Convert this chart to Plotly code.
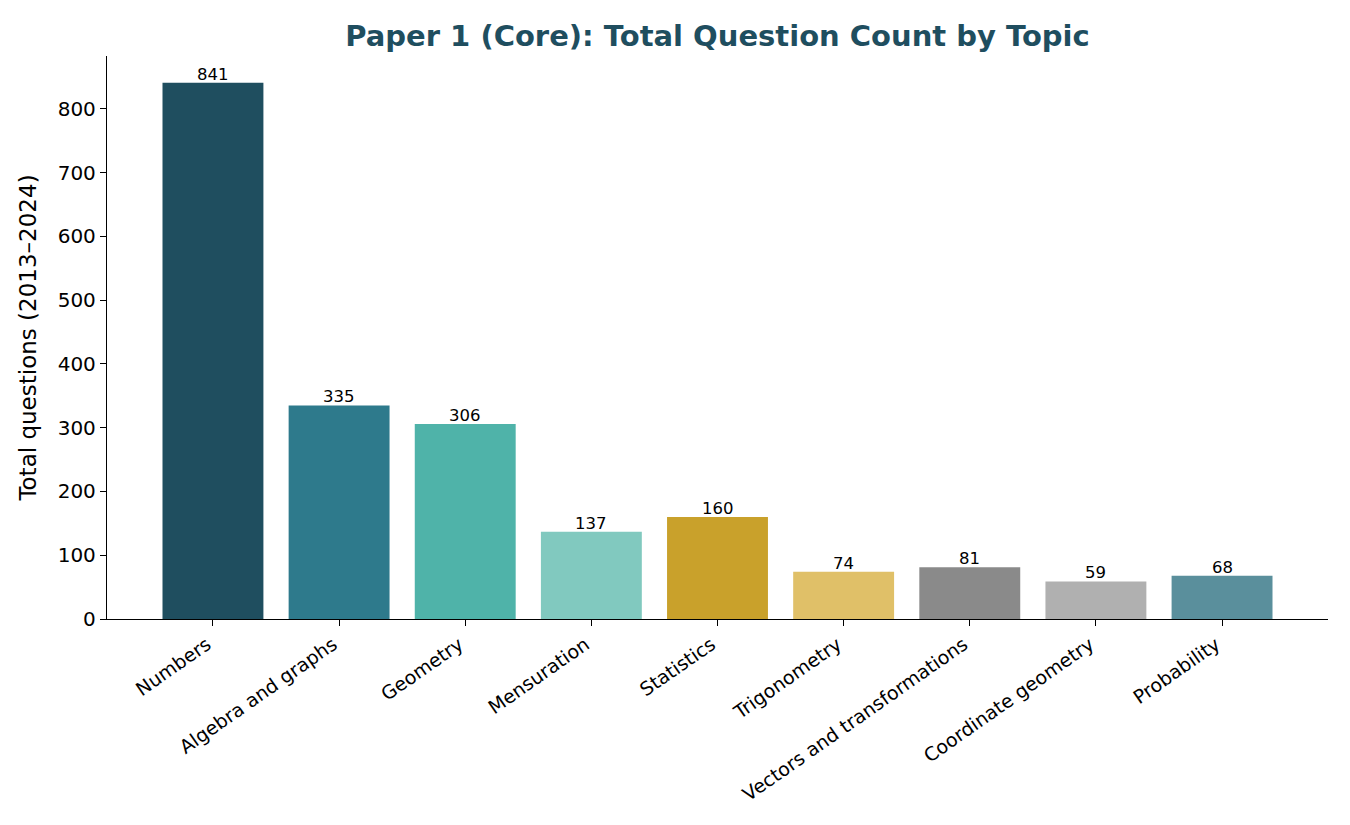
import plotly.graph_objects as go

topics = ["Numbers", "Algebra and graphs", "Geometry", "Mensuration", "Statistics",
          "Trigonometry", "Vectors and transformations", "Coordinate geometry", "Probability"]
counts = [841, 335, 306, 137, 160, 74, 81, 59, 68]
colors = ["#1f4e5f", "#2e7a8c", "#4fb3a9", "#81c9bf", "#c9a12b",
          "#e0c068", "#8a8a8a", "#b0b0b0", "#5a8f9c"]
y_ticks = [0, 100, 200, 300, 400, 500, 600, 700, 800]

xs = list(range(len(topics)))
fig = go.Figure(go.Bar(
    x=xs, y=counts, marker_color=colors, width=0.8,
    marker_line_width=0, hoverinfo="x+y",
))

for x, c in zip(xs, counts):
    fig.add_annotation(
        x=x, y=c, xref="x", yref="y", text=str(c), showarrow=False,
        yanchor="bottom", xanchor="center", yshift=-3,
        font=dict(size=16.5, color="black", family="DejaVu Sans"),
    )

fig.update_layout(
    width=1342, height=817,
    paper_bgcolor="white", plot_bgcolor="white",
    margin=dict(l=99, r=22, t=48, b=206),
    font=dict(family="DejaVu Sans", color="black"),
    title=dict(text="<b>Paper 1 (Core): Total Question Count by Topic</b>",
               x=0.5, xanchor="center", xref="paper", y=1 - 28 / 817, yanchor="middle",
               font=dict(size=29, color="#1f4e5f", family="DejaVu Sans")),
    showlegend=False,
    bargap=0.2,
)
fig.update_xaxes(
    range=[-0.84, len(topics) - 1 + 0.84],
    tickmode="array", tickvals=xs, ticktext=topics,
    tickangle=-35, tickfont=dict(size=19, color="black"),
    ticklabelshift=-6,
    showline=True, linecolor="black", linewidth=1.3,
    ticks="outside", ticklen=6, tickwidth=1.3, tickcolor="black",
    showgrid=False, zeroline=False,
)
fig.update_yaxes(
    range=[0, 883],
    tickmode="array", tickvals=y_ticks,
    tickfont=dict(size=20, color="black"),
    title=dict(text="Total questions (2013–2024)", font=dict(size=23, color="black"), standoff=14),
    showline=True, linecolor="black", linewidth=1.3,
    ticks="outside", ticklen=6, tickwidth=1.3, tickcolor="black",
    showgrid=False, zeroline=False,
)

fig.write_html("out.html")
